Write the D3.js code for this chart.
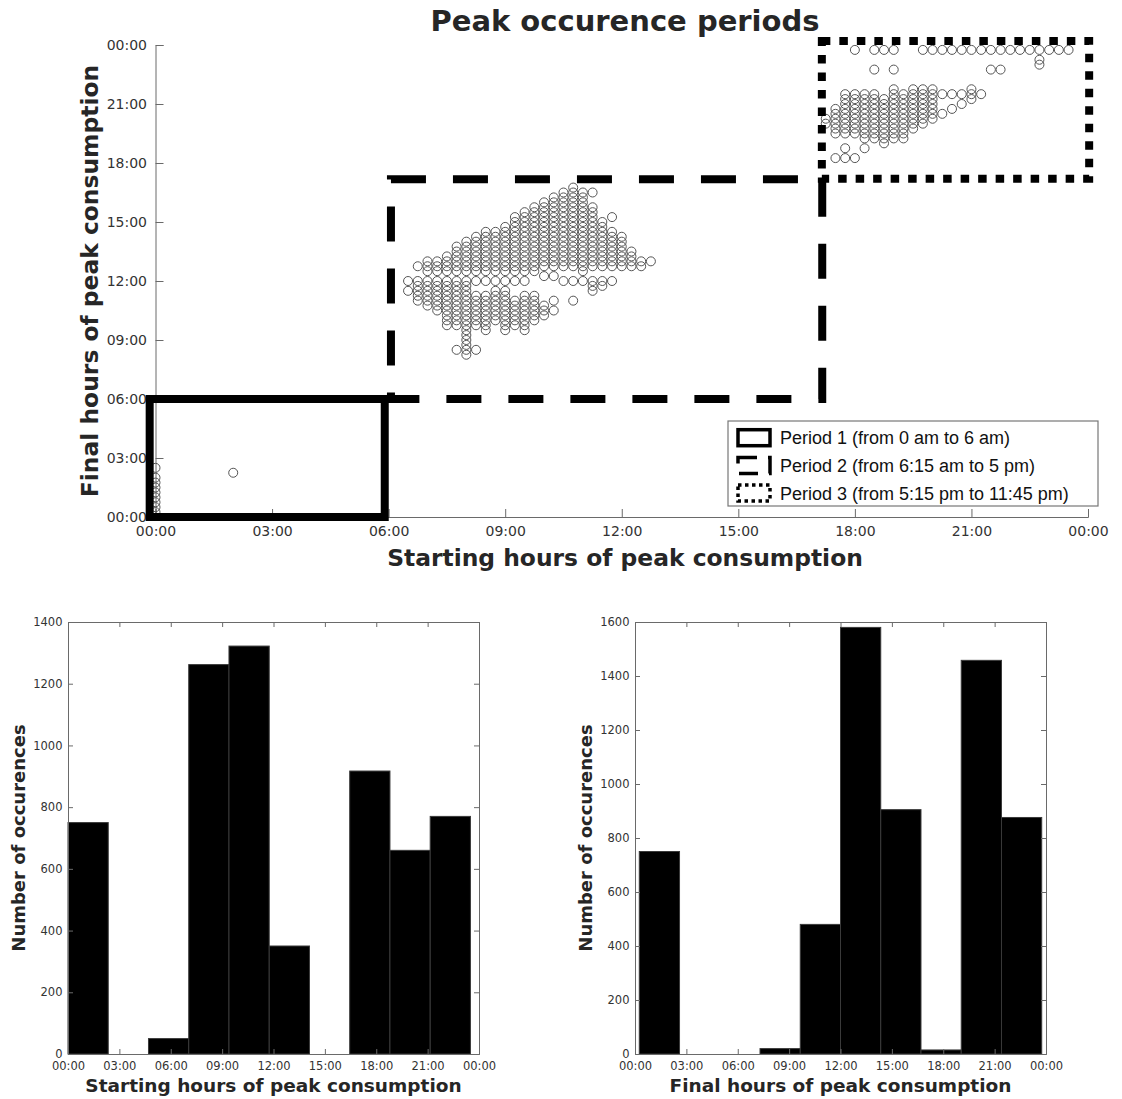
<!DOCTYPE html>
<html>
<head>
<meta charset="utf-8">
<script src="https://cdn.jsdelivr.net/npm/d3@7"></script>
<style>
body { margin: 0; background: #fff; }
svg text { font-family: 'DejaVu Sans', sans-serif; }
.axis path, .axis line { stroke: #6a6a6a; }
.axis text { fill: #333; }
.label { font-weight: bold; fill: #262626; }
</style>
</head>
<body>
<script>
// ---------- data ----------
// peak occurences: [start, "final times"], both in quarter hours (4 = 01:00)
var peakPoints = [
    [0, "1 2 3 4 5 6 7 8 10"],
    [8, "9"],
    [26, "46 48"],
    [27, "44 45 46 47 48 51"],
    [28, "43 44 45 46 47 48 50 51 52"],
    [29, "42 43 44 45 46 47 48 50 51 52"],
    [30, "39 40 41 42 43 44 45 46 47 48 50 51 52 53"],
    [31, "34 39 40 41 42 43 44 45 46 47 48 50 51 52 53 54 55"],
    [32, "33 34 35 36 37 38 39 40 41 42 43 44 45 46 47 48 50 51 52 53 54 55 56"],
    [33, "34 39 40 41 42 43 44 45 48 50 51 52 53 54 55 56 57"],
    [34, "38 39 40 41 42 43 44 45 48 50 51 52 53 54 55 56 57 58"],
    [35, "40 41 42 43 44 45 46 48 50 51 52 53 54 55 56 57 58"],
    [36, "38 39 40 41 42 43 44 45 46 48 50 51 52 53 54 55 56 57 58 59"],
    [37, "39 40 41 42 43 44 48 50 51 52 53 54 55 56 57 58 59 60 61"],
    [38, "38 39 40 41 42 43 44 45 48 50 51 52 53 54 55 56 57 58 59 60 61 62"],
    [39, "40 41 42 43 44 45 50 51 52 53 54 55 56 57 58 59 60 61 62 63"],
    [40, "41 42 43 49 51 52 53 54 55 56 57 58 59 60 61 62 63 64"],
    [41, "42 44 49 51 52 53 54 55 56 57 58 59 60 61 62 63 64 65"],
    [42, "48 51 52 53 54 55 56 57 58 59 60 61 62 63 64 65 66"],
    [43, "44 48 51 52 53 54 55 56 57 58 59 60 61 62 63 64 65 66 67"],
    [44, "48 50 51 52 53 54 55 56 57 58 59 60 61 62 63 64 65 66"],
    [45, "46 47 48 51 52 53 54 55 56 57 58 59 60 61 62 63 66"],
    [46, "47 48 51 52 53 54 55 56 57 58 59 60"],
    [47, "48 51 52 53 54 55 56 57 58 61"],
    [48, "51 52 53 54 55 56 57"],
    [49, "51 52 53 54"],
    [50, "51 52"],
    [51, "52"],
    [69, "80 81"],
    [70, "73 78 79 80 81 82 83"],
    [71, "73 75 78 79 80 81 82 83 84 85 86"],
    [72, "73 78 79 80 81 82 83 84 85 86 95"],
    [73, "75 77 78 79 80 81 82 83 84 85 86"],
    [74, "77 78 79 80 81 82 83 84 85 86 91 95"],
    [75, "76 77 78 79 80 81 82 83 84 85 95"],
    [76, "77 78 79 80 81 82 83 84 85 86 87 91 95"],
    [77, "77 78 79 80 81 82 83 84 85 86"],
    [78, "79 80 81 82 83 84 85 86 87"],
    [79, "80 81 82 83 84 85 86 87 95"],
    [80, "81 82 83 84 85 86 87 95"],
    [81, "82 86 95"],
    [82, "83 86 95"],
    [83, "84 86 95"],
    [84, "85 86 87 95"],
    [85, "86 95"],
    [86, "91 95"],
    [87, "91 95"],
    [88, "95"],
    [89, "95"],
    [90, "95"],
    [91, "92 93 95"],
    [92, "95"],
    [93, "95"],
    [94, "95"]
]

// period boxes in hours: [x0, x1, y0, y1]
var periodBounds = [
    [-0.15, 5.9, 0, 6],
    [6.06, 17.16, 6, 17.18],
    [17.15, 24.03, 17.2, 24.2]
]
var periodLabels = [
    'Period 1 (from 0 am to 6 am)',
    'Period 2 (from 6:15 am to 5 pm)',
    'Period 3 (from 5:15 pm to 11:45 pm)'
]

// histograms (hours)
var startBinEdges = [0, 2.35, 4.7, 7.05, 9.4, 11.75, 14.1, 16.45, 18.8, 21.15, 23.5]
var startCounts = [750, 0, 50, 1262, 1322, 350, 0, 917, 660, 770]
var endBinEdges = [0.25, 2.6, 4.95, 7.3, 9.65, 12, 14.35, 16.7, 19.05, 21.4, 23.75]
var endCounts = [750, 0, 0, 20, 480, 1580, 905, 15, 1458, 876]

var hourTicks = [0, 3, 6, 9, 12, 15, 18, 21, 24]
var startCountTicks = [0, 200, 400, 600, 800, 1000, 1200, 1400]
var endCountTicks = [0, 200, 400, 600, 800, 1000, 1200, 1400, 1600]

// ---------- drawing ----------
var hhmm = function(d){
    return d3.format('02d')(d % 24) + ':00'
}

var svg = d3.select('body').append('svg')
    .attr('width', 1122)
    .attr('height', 1099)

// scatter body
var margin = {left: 155.5, top: 45}
var width = 932.5
var height = 472

var xAxis = d3.scaleLinear().domain([0, 24]).range([0, width])
var yAxis = d3.scaleLinear().domain([0, 24]).range([height, 0])

var chart = svg.append('g')
    .attr('transform', 'translate(' + margin.left + ',' + margin.top + ')')

var points = []
peakPoints.forEach(function(c){
    c[1].split(' ').forEach(function(e){
        points.push({start: c[0] / 4, end: +e / 4})
    })
})

chart.append('g').attr('class', 'axis')
    .attr('transform', 'translate(0,' + height + ')')
    .call(d3.axisBottom(xAxis).tickValues(hourTicks).tickFormat(hhmm).tickSize(-8).tickPadding(9))
    .attr('font-size', 14).attr('font-family', 'DejaVu Sans')

chart.append('g').attr('class', 'axis')
    .call(d3.axisLeft(yAxis).tickValues(hourTicks).tickFormat(hhmm).tickSize(-8).tickPadding(8.5))
    .attr('font-size', 14).attr('font-family', 'DejaVu Sans')

chart.selectAll('circle.pt')
    .data(points)
    .enter().append('circle')
    .attr('class', 'pt')
    .attr('cx', function(d){ return xAxis(d.start) })
    .attr('cy', function(d){ return yAxis(d.end) })
    .attr('r', 4.5)
    .attr('fill', 'none')
    .attr('stroke', '#555')
    .attr('stroke-width', 1)

var periodDash = ['none', '35 27', '8.5 9']
chart.selectAll('rect.period')
    .data(periodBounds)
    .enter().append('rect')
    .attr('class', 'period')
    .attr('x', function(d){ return xAxis(d[0]) })
    .attr('y', function(d){ return yAxis(d[3]) })
    .attr('width', function(d){ return xAxis(d[1]) - xAxis(d[0]) })
    .attr('height', function(d){ return yAxis(d[2]) - yAxis(d[3]) })
    .attr('fill', 'none')
    .attr('stroke', '#000')
    .attr('stroke-width', 8)
    .attr('stroke-dasharray', function(d, i){ return periodDash[i] })

// legend
var legend = svg.append('g').attr('transform', 'translate(728,421)')
legend.append('rect')
    .attr('width', 370).attr('height', 85)
    .attr('fill', '#fff').attr('stroke', '#777').attr('stroke-width', 1.2)
var iconDash = ['none', '19 11', '3.5 3.5']
var rows = legend.selectAll('g.row')
    .data(periodLabels)
    .enter().append('g')
    .attr('class', 'row')
    .attr('transform', function(d, i){ return 'translate(0,' + (16.7 + i * 27.7) + ')' })
rows.append('rect')
    .attr('x', 10).attr('y', -8).attr('width', 32).attr('height', 16)
    .attr('fill', 'none').attr('stroke', '#000').attr('stroke-width', 3.5)
    .attr('stroke-dasharray', function(d, i){ return iconDash[i] })
rows.append('text')
    .attr('x', 52).attr('dy', '0.36em')
    .style('font-family', "'Liberation Sans', Arial, sans-serif")
    .style('font-size', '18px')
    .attr('fill', '#111')
    .text(function(d){ return d })

// titles
svg.append('text').attr('class', 'label')
    .attr('x', 625).attr('y', 31)
    .attr('text-anchor', 'middle')
    .style('font-size', '29px')
    .attr('fill', '#000')
    .text('Peak occurence periods')
svg.append('text').attr('class', 'label')
    .attr('x', 625).attr('y', 566)
    .attr('text-anchor', 'middle')
    .style('font-size', '23.4px')
    .text('Starting hours of peak consumption')
svg.append('text').attr('class', 'label')
    .attr('transform', 'translate(98,281) rotate(-90)')
    .attr('text-anchor', 'middle')
    .style('font-size', '23.4px')
    .text('Final hours of peak consumption')

// histograms
function drawHist(left, edges, counts, yMax, yTicks, label){
    var w = 411, h = 432
    var g = svg.append('g').attr('transform', 'translate(' + left + ',622)')
    var hx = d3.scaleLinear().domain([0, 24]).range([0, w])
    var hy = d3.scaleLinear().domain([0, yMax]).range([h, 0])

    g.selectAll('rect.bar')
        .data(counts)
        .enter().append('rect')
        .attr('class', 'bar')
        .attr('x', function(d, i){ return hx(edges[i]) })
        .attr('width', function(d, i){ return hx(edges[i + 1]) - hx(edges[i]) })
        .attr('y', function(d){ return hy(d) })
        .attr('height', function(d){ return h - hy(d) })
        .attr('fill', '#000')
        .attr('stroke', '#3a3a3a')
        .attr('stroke-width', 1)

    g.append('g').attr('class', 'axis')
        .attr('transform', 'translate(0,' + h + ')')
        .call(d3.axisBottom(hx).tickValues(hourTicks).tickFormat(hhmm).tickSize(-5).tickPadding(8))
        .attr('font-size', 11.5).attr('font-family', 'DejaVu Sans')
    g.append('g').attr('class', 'axis')
        .call(d3.axisLeft(hy).tickValues(yTicks).tickFormat(d3.format('d')).tickSize(-5).tickPadding(5.5))
        .attr('font-size', 11.5).attr('font-family', 'DejaVu Sans')
    g.append('g').attr('class', 'axis')
        .call(d3.axisTop(hx).tickValues(hourTicks).tickFormat('').tickSize(-5))
    g.append('g').attr('class', 'axis')
        .attr('transform', 'translate(' + w + ',0)')
        .call(d3.axisRight(hy).tickValues(yTicks).tickFormat('').tickSize(-5))

    g.append('text').attr('class', 'label')
        .attr('x', w / 2).attr('y', 470)
        .attr('text-anchor', 'middle')
        .style('font-size', '18.5px')
        .text(label)
    g.append('text').attr('class', 'label')
        .attr('transform', 'translate(-43,' + (h / 2) + ') rotate(-90)')
        .attr('text-anchor', 'middle')
        .style('font-size', '18px')
        .text('Number of occurences')
}

drawHist(68, startBinEdges, startCounts, 1400, startCountTicks, 'Starting hours of peak consumption')
drawHist(635, endBinEdges, endCounts, 1600, endCountTicks, 'Final hours of peak consumption')
</script>
</body>
</html>
